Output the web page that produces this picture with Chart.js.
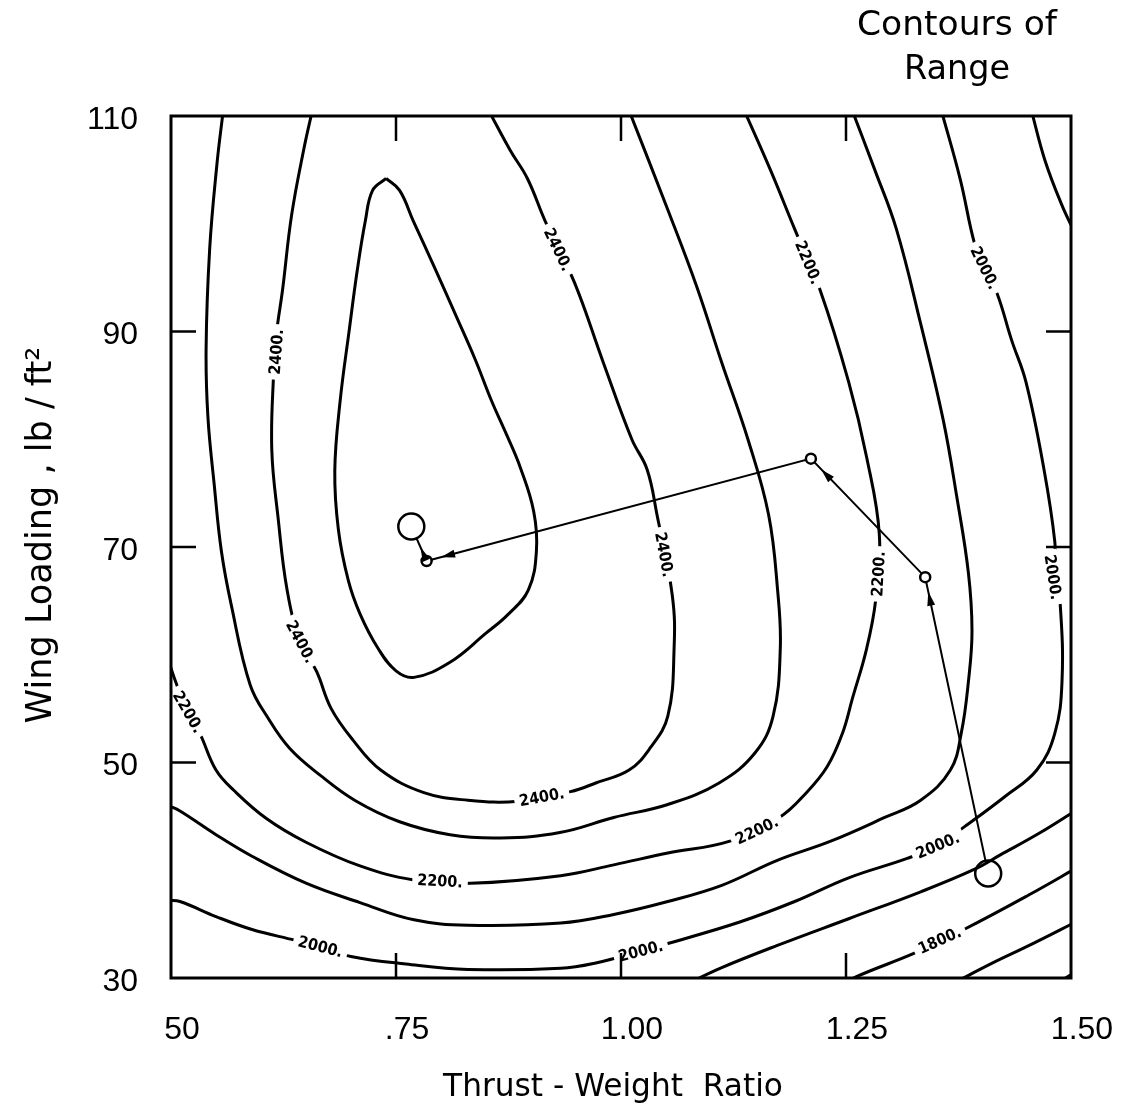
<!DOCTYPE html>
<html>
<head>
<meta charset="utf-8">
<script src="https://cdn.jsdelivr.net/npm/chart.js@4.4.1/dist/chart.umd.min.js"></script>
<style>
html,body{margin:0;padding:0;background:#fff;}
#wrap{width:1125px;height:1112px;position:relative;}
</style>
</head>
<body>
<div id="wrap"><canvas id="c" width="1125" height="1112"></canvas></div>
<script>
// ---- axis ticks ----
const xTickValues = [0.5, 0.75, 1.0, 1.25, 1.5];
const xTickLabels = ["50", ".75", "1.00", "1.25", "1.50"];
const yTickValues = [30, 50, 70, 90, 110];
const yTickLabels = ["30", "50", "70", "90", "110"];

// ---- contour lines of range, [thrust-weight ratio, wing loading] ----
const contour2500 = [[0.739,104.2],[0.754,103.1],[0.769,100.3],[0.793,95.9],[0.817,91.4],[0.838,87.4],[0.856,83.6],[0.873,80.4],[0.888,77.4],[0.903,73.3],[0.906,69.6],[0.897,66.0],[0.874,63.7],[0.850,62.0],[0.810,59.3],[0.770,57.9],[0.750,58.5],[0.730,60.6],[0.710,63.8],[0.697,66.9],[0.686,71.6],[0.682,77.1],[0.688,83.6],[0.698,90.1],[0.707,95.7],[0.716,100.3],[0.724,103.1],[0.739,104.2]];
const contour2400 = [[0.657,110.5],[0.648,107.1],[0.634,100.8],[0.624,93.9],[0.617,89.7],[0.614,86.1],[0.612,79.0],[0.619,72.7],[0.629,66.0],[0.643,61.4],[0.662,58.4],[0.678,55.0],[0.702,52.1],[0.733,49.3],[0.781,47.2],[0.830,46.5],[0.886,46.4],[0.944,47.3],[0.972,48.1],[1.009,49.3],[1.032,51.3],[1.052,54.3],[1.059,60.6],[1.057,65.5],[1.040,73.0],[1.029,77.2],[1.012,80.0],[0.980,87.2],[0.948,94.6],[0.916,100.2],[0.896,104.2],[0.877,106.8],[0.853,110.5]];
const contour2300 = [[0.558,110.5],[0.551,105.5],[0.543,97.7],[0.539,88.4],[0.541,82.1],[0.548,75.8],[0.556,69.6],[0.567,64.6],[0.588,57.2],[0.608,54.1],[0.632,51.3],[0.666,48.8],[0.704,46.5],[0.754,44.5],[0.810,43.3],[0.866,43.0],[0.932,43.5],[0.992,44.9],[1.052,46.1],[1.109,48.1],[1.149,50.9],[1.169,54.3],[1.177,60.6],[1.174,66.0],[1.164,73.0],[1.141,80.0],[1.112,87.1],[1.084,94.2],[1.052,101.3],[1.009,110.5]];
const contour2200 = [[0.497,59.5],[0.506,57.3],[0.517,54.9],[0.532,52.7],[0.550,49.3],[0.570,47.4],[0.606,44.8],[0.650,42.6],[0.710,40.4],[0.770,39.1],[0.833,38.8],[0.933,39.5],[0.992,40.5],[1.052,41.6],[1.121,42.7],[1.176,44.9],[1.206,47.2],[1.229,49.6],[1.246,52.7],[1.257,55.9],[1.273,60.6],[1.283,65.1],[1.287,71.2],[1.273,78.3],[1.253,85.3],[1.221,93.9],[1.193,99.5],[1.166,105.0],[1.137,110.5]];
const contour2100 = [[0.497,46.0],[0.510,45.5],[0.550,43.3],[0.590,41.3],[0.650,38.8],[0.710,37.0],[0.770,35.4],[0.830,34.9],[0.933,35.1],[0.992,35.9],[1.052,37.1],[1.112,38.6],[1.173,40.9],[1.233,42.7],[1.293,44.9],[1.333,46.5],[1.366,49.3],[1.378,52.7],[1.386,57.5],[1.390,62.2],[1.386,67.6],[1.373,74.7],[1.358,81.8],[1.333,90.7],[1.306,99.5],[1.282,105.0],[1.257,110.5]];
const contour2000 = [[0.497,37.2],[0.510,37.1],[0.550,35.7],[0.590,34.5],[0.638,33.5],[0.666,32.9],[0.700,32.0],[0.761,31.3],[0.830,30.8],[0.933,30.9],[0.972,31.4],[1.022,32.5],[1.052,33.2],[1.132,35.2],[1.193,37.1],[1.253,39.3],[1.318,41.1],[1.352,42.3],[1.381,44.0],[1.426,46.8],[1.462,49.3],[1.482,52.7],[1.490,57.5],[1.488,64.7],[1.482,67.9],[1.482,70.5],[1.470,77.2],[1.450,85.3],[1.434,89.2],[1.418,93.5],[1.404,95.9],[1.393,98.1],[1.377,104.1],[1.356,110.5]];
const contour1900a = [[1.456,110.5],[1.471,105.9],[1.490,101.7],[1.504,99.2]];
const contour1900b = [[1.510,45.8],[1.466,43.5],[1.421,41.4],[1.393,40.1],[1.333,38.0],[1.253,35.5],[1.173,33.0],[1.110,30.9],[1.077,29.6]];
const contour1800 = [[1.510,40.4],[1.453,37.7],[1.381,34.5],[1.354,33.5],[1.326,32.3],[1.261,30.1],[1.249,29.4]];
const contour1700 = [[1.510,35.4],[1.453,33.0],[1.413,31.4],[1.369,29.5]];
const contour1600 = [[1.510,30.8],[1.486,29.6]];

const contourSets = [
  [2500, contour2500],[2400, contour2400],[2300, contour2300],[2200, contour2200],
  [2100, contour2100],[2000, contour2000],[1900, contour1900a],[1900, contour1900b],
  [1800, contour1800],[1700, contour1700],[1600, contour1600]
];

// ---- contour labels ----
const labelLevels = [2400,2400,2400,2400,2400,2200,2200,2200,2200,2200,2000,2000,2000,2000,2000,1800];
const labelX = [0.617,0.644,0.912,1.048,0.930,1.208,1.286,1.151,0.799,0.519,0.666,1.022,1.352,1.404,1.480,1.354];
const labelY = [88.1,61.2,46.8,69.3,97.6,96.4,67.5,43.7,39.0,54.7,32.9,32.5,42.3,95.9,67.2,33.5];

// ---- optimisation path (start -> optimum) ----
const pathX = [1.408, 1.338, 1.211, 0.784, 0.767];
const pathY = [39.7, 67.2, 78.2, 68.7, 71.9];
const pathPointSize = [13, 5, 5, 5, 13];

const toPts = arr => arr.map(p => ({x: p[0], y: p[1]}));

const datasets = contourSets.map(([lev, arr]) => ({
  level: lev,
  data: toPts(arr),
  showLine: true,
  borderColor: '#000',
  borderWidth: 3,
  pointRadius: 0,
  tension: 0.4
}));
datasets.push({
  level: null,
  data: pathX.map((x, i) => ({x: x, y: pathY[i]})),
  showLine: true,
  borderColor: '#000',
  borderWidth: 2,
  tension: 0,
  pointRadius: pathPointSize,
  pointBackgroundColor: '#fff',
  pointBorderColor: '#000',
  pointBorderWidth: 2.5
});

function segDist(px, py, ax, ay, bx, by) {
  const dx = bx - ax, dy = by - ay;
  const L = dx*dx + dy*dy;
  let t = L ? ((px-ax)*dx + (py-ay)*dy) / L : 0;
  t = Math.max(0, Math.min(1, t));
  const qx = ax + t*dx, qy = ay + t*dy;
  return Math.hypot(px-qx, py-qy);
}

function fitText(ctx, text, cx, cy, width, font, rot) {
  ctx.save();
  ctx.font = 'normal 100px ' + font;
  const w = ctx.measureText(text).width;
  const size = 100 * width / w;
  ctx.font = 'normal ' + size.toFixed(2) + 'px ' + font;
  ctx.translate(cx, cy);
  ctx.rotate(rot || 0);
  ctx.textAlign = 'center';
  ctx.textBaseline = 'middle';
  ctx.fillStyle = '#000';
  ctx.fillText(text, 0, 0);
  ctx.restore();
}

const decor = {
  id: 'decor',
  afterDatasetsDraw(chart) {
    const ctx = chart.ctx, xs = chart.scales.x, ys = chart.scales.y;
    ctx.save();
    ctx.font = 'bold 16px "DejaVu Sans Condensed", "DejaVu Sans", sans-serif';
    ctx.textAlign = 'center';
    ctx.textBaseline = 'middle';
    labelLevels.forEach((lev, i) => {
      const px = xs.getPixelForValue(labelX[i]);
      const py = ys.getPixelForValue(labelY[i]);
      let best = 1e9, ang = 0;
      chart.data.datasets.forEach((ds, di) => {
        if (ds.level !== lev) return;
        const pts = chart.getDatasetMeta(di).data;
        for (let k = 0; k < pts.length - 1; k++) {
          const a = pts[k], b = pts[k+1];
          const d = segDist(px, py, a.x, a.y, b.x, b.y);
          if (d < best) { best = d; ang = Math.atan2(b.y - a.y, b.x - a.x); }
        }
      });
      if (ang > Math.PI/2) ang -= Math.PI;
      if (ang < -Math.PI/2) ang += Math.PI;
      const txt = lev + '.';
      const w = ctx.measureText(txt).width;
      ctx.save();
      ctx.translate(px, py);
      ctx.rotate(ang);
      ctx.fillStyle = '#fff';
      ctx.fillRect(-w/2 - 5, -8, w + 10, 16);
      ctx.fillStyle = '#000';
      ctx.fillText(txt, 0, 1);
      ctx.restore();
    });
    ctx.restore();

    // arrowheads on the path, pointing to the next design point
    const pmeta = chart.getDatasetMeta(chart.data.datasets.length - 1).data;
    ctx.save();
    ctx.fillStyle = '#000';
    for (let k = 0; k < pmeta.length - 1; k++) {
      const a = pmeta[k], b = pmeta[k+1];
      const dx = b.x - a.x, dy = b.y - a.y, L = Math.hypot(dx, dy);
      const ux = dx / L, uy = dy / L;
      const back = pathPointSize[k+1] + 10;
      const tx = b.x - ux*back, ty = b.y - uy*back;
      const len = 14, hw = 4;
      ctx.beginPath();
      ctx.moveTo(tx, ty);
      ctx.lineTo(tx - ux*len - uy*hw, ty - uy*len + ux*hw);
      ctx.lineTo(tx - ux*len + uy*hw, ty - uy*len - ux*hw);
      ctx.closePath();
      ctx.fill();
    }
    ctx.restore();
  },
  afterDraw(chart) {
    const ctx = chart.ctx, a = chart.chartArea, xs = chart.scales.x, ys = chart.scales.y;
    ctx.save();
    ctx.strokeStyle = '#000';
    ctx.lineWidth = 3;
    ctx.strokeRect(a.left, a.top, a.right - a.left, a.bottom - a.top);
    ctx.lineWidth = 2.5;
    const tl = 25;
    ctx.beginPath();
    xTickValues.slice(1, -1).forEach(v => {
      const x = xs.getPixelForValue(v);
      ctx.moveTo(x, a.bottom); ctx.lineTo(x, a.bottom - tl);
      ctx.moveTo(x, a.top); ctx.lineTo(x, a.top + tl);
    });
    yTickValues.slice(1, -1).forEach(v => {
      const y = ys.getPixelForValue(v);
      ctx.moveTo(a.left, y); ctx.lineTo(a.left + tl, y);
      ctx.moveTo(a.right, y); ctx.lineTo(a.right - tl, y);
    });
    ctx.stroke();
    ctx.restore();

    const fam = '"DejaVu Sans", sans-serif';
    fitText(ctx, 'Contours of', 957, 26, 200, fam, 0);
    fitText(ctx, 'Range', 957, 70, 106, fam, 0);
    fitText(ctx, 'Thrust - Weight  Ratio', 613, 1088, 340, fam, 0);
    fitText(ctx, 'Wing Loading , lb / ft²', 42, 535, 377, fam, -Math.PI/2);
  }
};

Chart.defaults.font.family = '"Liberation Sans", Arial, sans-serif';
Chart.defaults.color = '#000';

new Chart(document.getElementById('c'), {
  type: 'scatter',
  data: { datasets: datasets },
  options: {
    responsive: false,
    animation: false,
    devicePixelRatio: 1,
    layout: { autoPadding: false, padding: { left: 0, right: 54, top: 116, bottom: 0 } },
    plugins: { legend: { display: false }, tooltip: { enabled: false }, title: { display: false } },
    scales: {
      x: {
        type: 'linear', min: 0.5, max: 1.5,
        afterFit: s => { s.height = 134; s.paddingLeft = 0; s.paddingRight = 0; },
        afterBuildTicks: s => { s.ticks = xTickValues.map(v => ({value: v})); },
        grid: { display: false, drawTicks: false },
        border: { display: false },
        ticks: {
          padding: 33,
          labelOffset: 11,
          font: { size: 32 },
          color: '#000',
          maxRotation: 0,
          autoSkip: false,
          callback: v => { const i = xTickValues.findIndex(t => Math.abs(t - v) < 1e-6); return i >= 0 ? xTickLabels[i] : ''; }
        }
      },
      y: {
        type: 'linear', min: 30, max: 110,
        afterFit: s => { s.width = 171; s.paddingTop = 0; s.paddingBottom = 0; },
        afterBuildTicks: s => { s.ticks = yTickValues.map(v => ({value: v})); },
        grid: { display: false, drawTicks: false },
        border: { display: false },
        ticks: {
          padding: 33,
          labelOffset: 4,
          font: { size: 32 },
          color: '#000',
          autoSkip: false,
          callback: v => { const i = yTickValues.findIndex(t => Math.abs(t - v) < 1e-6); return i >= 0 ? yTickLabels[i] : ''; }
        }
      }
    }
  },
  plugins: [decor]
});
</script>
</body>
</html>
